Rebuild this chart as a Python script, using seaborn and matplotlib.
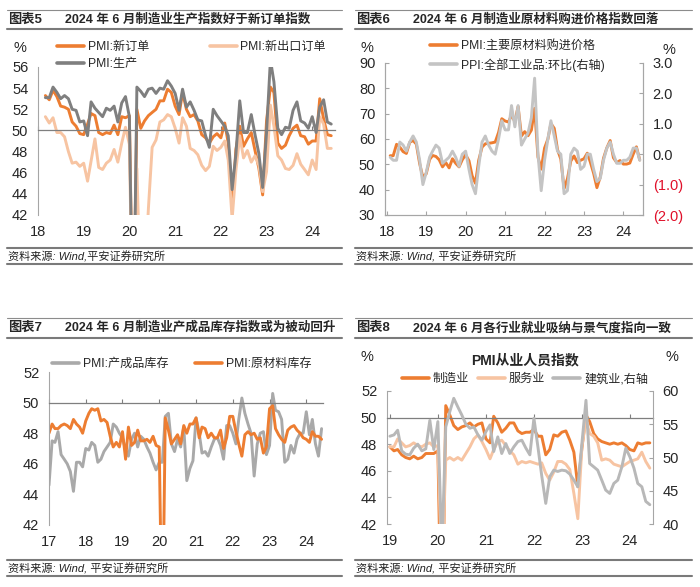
import pandas as pd
import matplotlib
matplotlib.use('Agg')
import matplotlib.pyplot as plt
from matplotlib.lines import Line2D
import seaborn as sns

sns.set_style('white')
plt.rcParams['font.family'] = ['Liberation Sans', 'Noto Sans CJK SC']
plt.rcParams['axes.unicode_minus'] = False

ORANGE = '#ED7D31'
PEACH = '#F7C4A2'
DGRAY = '#7F7F7F'
LGRAY = '#C4C4C4'
MGRAY = '#A9A9A9'
SPINE = '#A6A6A6'
RED = '#E0102A'
TICK = 10.5

# ---- 图表5: PMI 新订单 / 新出口订单 / 生产 (2018-03 起)
new_orders = [53.3, 52.9, 53.8, 53.2, 52.3, 52.2, 52.0, 50.8, 50.4, 49.7,
              49.6, 50.6, 51.6, 51.4, 49.8, 49.6, 49.8, 49.7, 50.5, 49.6, 51.3, 51.2,
              51.4, 29.3, 52.0, 50.2, 50.9, 51.4, 51.7, 52.0, 52.8, 52.8, 53.9, 53.6,
              52.3, 51.5, 53.6, 52.0, 51.3, 51.5, 50.9, 49.6, 49.3, 48.8, 49.4, 49.7,
              49.3, 50.7, 48.8, 42.6, 48.2, 50.4, 48.5, 49.2, 49.8, 48.1, 46.4, 43.9,
              50.9, 54.1, 53.6, 48.8, 48.3, 48.6, 49.5, 50.2, 50.5, 49.5, 49.4, 48.7,
              49.0, 49.0, 53.0, 51.1, 49.6, 49.5]
new_export = [51.3, 50.7, 51.2, 49.8, 49.8, 49.4, 48.0, 46.9, 47.0, 46.6,
              46.9, 45.2, 47.1, 49.2, 46.5, 46.3, 46.9, 47.2, 48.2, 47.0, 48.8, 50.3,
              48.7, 28.7, 46.4, 33.5, 35.3, 42.6, 48.4, 49.1, 50.8, 51.0, 51.5, 51.3,
              50.2, 48.8, 51.2, 50.4, 48.3, 48.1, 47.7, 46.7, 46.2, 46.6, 48.5, 48.1,
              48.4, 49.0, 47.2, 41.6, 46.2, 49.5, 47.4, 48.1, 47.0, 47.6, 46.7, 44.2,
              46.1, 52.4, 50.4, 47.6, 47.2, 46.4, 46.3, 46.7, 47.8, 46.8, 46.3, 45.8,
              47.2, 46.3, 51.3, 50.6, 48.3, 48.3]
production = [53.1, 53.1, 54.1, 53.6, 53.0, 53.3, 53.0, 52.0, 51.9, 50.8,
              50.9, 49.5, 52.7, 52.1, 51.7, 51.3, 52.1, 51.9, 52.3, 50.8, 52.6, 53.2,
              51.3, 27.8, 54.1, 53.7, 53.2, 53.9, 54.0, 53.5, 54.0, 53.9, 54.7, 54.2,
              53.5, 51.9, 53.9, 52.2, 52.7, 51.9, 51.0, 50.9, 49.5, 48.4, 52.0, 51.4,
              50.9, 50.4, 49.5, 44.4, 47.7, 52.8, 49.8, 49.8, 51.5, 49.6, 47.8, 44.6,
              49.8, 56.7, 54.6, 50.2, 49.6, 50.3, 50.2, 51.9, 52.7, 50.9, 50.7, 50.2,
              51.3, 49.8, 52.2, 52.9, 50.8, 50.6]

# ---- 图表6: PMI 主要原材料购进价格 / PPI 环比 (2018-02 起)
input_price = [53.4, 53.4, 57.9, 56.8, 55.0, 54.3, 58.7, 59.4, 58.0, 50.3, 44.8,
               46.3, 51.9, 53.5, 53.1, 51.8, 49.0, 50.7, 48.6, 52.2, 50.4, 49.0, 51.8,
               53.8, 51.4, 45.5, 42.5, 51.6, 56.8, 58.1, 58.3, 58.5, 58.8, 62.6, 68.0,
               67.1, 66.7, 69.4, 66.9, 72.8, 61.2, 62.9, 61.3, 63.5, 72.1, 52.9, 48.1,
               56.4, 60.0, 66.1, 64.2, 55.8, 52.0, 40.4, 44.3, 51.3, 53.3, 50.7, 51.6,
               52.2, 54.4, 50.9, 46.4, 40.8, 45.0, 52.4, 56.5, 59.4, 52.6, 50.7, 51.5,
               50.1, 50.1, 50.5, 54.0, 56.9, 51.7]
ppi_mom = [-0.1, -0.2, -0.2, 0.4, 0.3, 0.1, 0.4, 0.6, 0.4, -0.2, -1.0,
           -0.6, -0.1, 0.1, 0.3, 0.2, -0.3, -0.2, -0.1, 0.1, -0.1, -0.4, 0.0,
           0.1, -0.5, -1.0, -1.3, -0.4, 0.4, 0.6, 0.3, 0.1, 0.0, 0.5, 1.1,
           0.8, 0.8, 1.6, 0.9, 1.6, 0.3, 0.5, 0.7, 1.2, 2.5, 0.0, -1.2,
           -0.2, 0.5, 1.1, 0.6, 0.1, 0.0, -1.3, -1.2, 0.0, 0.2, 0.1, -0.5,
           -0.4, 0.0, 0.0, -0.5, -0.9, -0.8, -0.2, 0.2, 0.4, 0.0, -0.3, -0.3,
           -0.2, -0.2, -0.1, 0.2, 0.2, -0.2]

# ---- 图表7: PMI 产成品库存 / 原材料库存 (2017-01 起)
finished_inv = [44.6, 47.5, 47.4, 48.1, 46.6, 46.3, 46.0, 45.5, 44.2, 46.1, 46.1, 45.8,
                47.0, 46.9, 47.4, 47.2, 46.1, 46.3, 46.8, 47.1, 47.4, 48.6, 48.4, 48.0,
                47.7, 46.9, 46.5, 47.6, 48.0, 47.1, 47.8, 47.6, 47.1, 46.7, 46.1, 45.6,
                46.1, 46.1, 49.1, 49.3, 47.3, 46.8, 47.6, 47.1, 48.4, 44.9, 45.7, 46.2,
                49.0, 48.0, 46.7, 46.8, 46.5, 47.1, 47.6, 47.7, 47.2, 46.3, 48.5, 48.5,
                48.0, 47.3, 48.9, 50.3, 49.3, 48.6, 48.0, 45.2, 47.3, 48.0, 48.1, 46.6,
                47.2, 50.6, 49.5, 49.4, 48.9, 46.1, 46.3, 47.2, 46.7, 47.6, 48.0, 48.0,
                49.4, 47.9, 48.9, 47.3, 46.5, 48.3]
raw_inv = [48.0, 48.6, 48.3, 48.3, 48.5, 48.6, 48.5, 48.3, 48.9, 48.6, 48.4, 48.0,
           48.8, 49.3, 49.6, 49.5, 49.6, 48.8, 48.9, 48.7, 47.8, 47.1, 47.4, 47.1,
           48.1, 46.3, 48.4, 47.2, 47.4, 48.2, 47.5, 47.5, 47.6, 47.4, 47.8, 47.2,
           47.1, 33.9, 49.0, 48.2, 47.3, 47.6, 47.9, 47.3, 48.5, 48.0, 48.6, 48.6,
           49.0, 47.7, 48.4, 48.3, 47.7, 48.0, 47.7, 47.7, 48.2, 47.0, 47.7, 49.1,
           49.1, 48.1, 47.3, 46.5, 47.9, 48.1, 47.9, 48.0, 47.6, 47.7, 46.7, 47.1,
           49.6, 49.8, 48.3, 47.9, 47.6, 47.4, 48.2, 48.4, 48.5, 48.2, 48.0, 47.7,
           47.6, 47.4, 48.1, 47.8, 47.8, 47.6]

# ---- 图表8: PMI 从业人员指数 (2019-01 起)
emp_manu = [47.8, 47.5, 47.6, 47.2, 47.0, 46.9, 47.1, 46.9, 47.0, 47.3, 47.3, 47.3,
            47.5, 31.8, 50.9, 50.2, 49.4, 49.1, 49.3, 49.4, 49.6, 49.3, 49.5, 49.6,
            48.4, 48.1, 50.1, 49.6, 48.9, 49.2, 49.6, 49.6, 49.0, 48.8, 48.9, 48.9,
            49.1, 48.6, 48.6, 47.2, 47.6, 48.7, 48.6, 48.9, 49.0, 48.3, 47.4, 44.8,
            47.7, 50.2, 49.7, 48.8, 48.4, 48.2, 48.1, 48.0, 48.1, 48.0, 48.1, 47.9,
            47.6, 47.5, 48.1, 48.0, 48.1, 48.1]
emp_serv = [47.8, 47.8, 48.4, 48.1, 47.8, 47.9, 48.1, 47.9, 47.8, 48.0, 48.1, 47.8,
            47.9, 38.0, 46.8, 47.0, 46.8, 47.0, 46.8, 47.3, 47.8, 48.4, 48.7, 48.2,
            47.6, 46.9, 47.6, 48.2, 48.3, 47.9, 47.5, 47.2, 46.5, 46.7, 46.6, 46.7,
            46.6, 46.5, 46.6, 45.8, 45.3, 45.9, 46.7, 46.7, 46.5, 46.1, 44.3, 42.4,
            47.8, 49.8, 48.8, 48.6, 48.1, 46.8, 46.9, 46.8, 46.5, 46.4, 46.3, 46.5,
            46.7, 46.8, 46.9, 47.4, 46.7, 46.2]
emp_cons = [53.2, 53.4, 54.1, 51.0, 50.5, 50.4, 51.4, 52.0, 51.0, 51.3, 55.6, 51.2,
            55.4, 36.0, 54.6, 56.9, 58.9, 57.6, 56.4, 55.0, 54.4, 54.6, 53.4, 52.6,
            53.9, 54.9, 50.9, 53.1, 50.6, 52.1, 50.6, 51.6, 52.4, 52.6, 51.4, 50.4,
            55.9, 51.5, 47.3, 43.1, 47.1, 48.1, 47.9, 48.1, 48.0, 47.5, 46.6, 45.6,
            52.1, 58.6, 49.1, 48.6, 48.1, 46.6, 45.1, 44.6, 46.1, 46.6, 48.6, 51.4,
            50.1, 48.4, 46.1, 45.6, 43.4, 42.9]

d1 = pd.date_range('2018-03-01', periods=len(new_orders), freq='MS')
d2 = pd.date_range('2018-02-01', periods=len(input_price), freq='MS')
d3 = pd.date_range('2017-01-01', periods=len(raw_inv), freq='MS')
d4 = pd.date_range('2019-01-01', periods=len(emp_manu), freq='MS')

W, H = 700, 587
fig = plt.figure(figsize=(W / 100, H / 100), dpi=100)


def fx(px):
    return px / W


def fy(py):
    return 1 - py / H


def add_axes(l, t, r, b):
    return fig.add_axes([fx(l), fy(b), (r - l) / W, (b - t) / H])


def hline(x0, x1, y, lw, color):
    fig.add_artist(Line2D([fx(x0), fx(x1)], [fy(y), fy(y)], lw=lw, color=color,
                          transform=fig.transFigure))


def frame(x0, x1, top, sub, foot, bottom, num, title, source):
    hline(x0, x1, top, 0.8, '#8C8C8C')
    hline(x0, x1, sub, 1.5, '#7A7A7A')
    hline(x0, x1, foot, 1.5, '#7A7A7A')
    hline(x0, x1, bottom, 1.5, '#7A7A7A')
    fig.text(fx(x0 + 1), fy((top + sub) / 2), num, fontsize=9.5, fontweight='bold', va='center')
    fig.text(fx(x0 + 58), fy((top + sub) / 2), title, fontsize=9, fontweight='bold', va='center')
    fig.text(fx(x0 + 1), fy((foot + bottom) / 2 + 1), source, fontsize=8, style='italic',
             va='center', color='#222222')


def line(ax, x, y, color, label):
    sns.lineplot(x=x, y=y, ax=ax, color=color, linewidth=2.1, label=label, legend=False)
    ax.set_xlabel('')
    ax.set_ylabel('')
    return ax.lines[-1]


def year_ticks(ax, first, last):
    ticks = [pd.Timestamp(f'{y}-01-01') for y in range(first, last + 1)]
    ax.set_xticks(ticks)
    ax.set_xticklabels([str(y)[2:] for y in range(first, last + 1)])


def axis_at_50(ax):
    # x 轴与 50 线相交，刻度标签放在底部
    for s in ['right', 'bottom']:
        ax.spines[s].set_visible(False)
    ax.spines['left'].set_color(SPINE)
    ax.spines['left'].set_linewidth(0.8)
    ax.spines['top'].set_visible(True)
    ax.spines['top'].set_position(('data', 50))
    ax.spines['top'].set_color(DGRAY)
    ax.spines['top'].set_linewidth(0.9)
    ax.tick_params(axis='x', bottom=False, top=True, labelbottom=True, labeltop=False,
                   direction='out', length=3, color=DGRAY, labelsize=TICK, pad=4)
    ax.tick_params(axis='y', direction='in', length=3, color=SPINE, labelsize=TICK, pad=7)


def legend(ax, handles, x, y, ncol=1, colsp=1.0, lsp=0.45):
    leg = ax.legend(handles=handles, loc='upper left', bbox_to_anchor=(fx(x), fy(y)),
                    bbox_transform=fig.transFigure, frameon=False, ncol=ncol,
                    fontsize=8.7, handlelength=2.25, handletextpad=0.3,
                    columnspacing=colsp, labelspacing=lsp, borderpad=0, borderaxespad=0)
    for h in leg.get_lines():
        h.set_linewidth(2.6)
    return leg


# ================= 图表5 =================
frame(7, 342, 10, 29, 248, 264, '图表5', '2024 年 6 月制造业生产指数好于新订单指数',
      '资料来源: Wind,平安证券研究所')
ax1 = add_axes(38, 67, 335, 215)
h_new = line(ax1, d1, new_orders, ORANGE, 'PMI:新订单')
h_exp = line(ax1, d1, new_export, PEACH, 'PMI:新出口订单')
h_prd = line(ax1, d1, production, DGRAY, 'PMI:生产')
ax1.set_ylim(42, 56)
ax1.set_yticks(range(42, 57, 2))
ax1.set_xlim(pd.Timestamp('2018-01-01'), pd.Timestamp('2024-07-01'))
year_ticks(ax1, 2018, 2024)
axis_at_50(ax1)
legend(ax1, [h_new, h_prd, h_exp], 57, 41, ncol=2, colsp=5.0)
fig.text(fx(20), fy(48), '%', fontsize=TICK, ha='center', va='center')

# ================= 图表6 =================
frame(355, 692, 10, 29, 248, 264, '图表6', '2024 年 6 月制造业原材料购进价格指数回落',
      '资料来源: Wind, 平安证券研究所')
ax2 = add_axes(385, 63, 643, 215)
h_in = line(ax2, d2, input_price, ORANGE, 'PMI:主要原材料购进价格')
ax2.set_ylim(30, 90)
ax2.set_yticks(range(30, 91, 10))
tw2 = ax2.twinx()
h_ppi = line(tw2, d2, ppi_mom, LGRAY, 'PPI:全部工业品:环比(右轴)')
tw2.set_ylim(-2, 3)
tw2.set_yticks([-2, -1, 0, 1, 2, 3])
tw2.set_yticklabels(['(2.0)', '(1.0)', '0.0', '1.0', '2.0', '3.0'])
for lab, v in zip(tw2.get_yticklabels(), [-2, -1, 0, 1, 2, 3]):
    if v < 0:
        lab.set_color(RED)
ax2.set_xlim(pd.Timestamp('2017-12-15'), pd.Timestamp('2024-07-01'))
year_ticks(ax2, 2018, 2024)
for a in (ax2, tw2):
    a.spines['top'].set_visible(False)
    for s in ['left', 'right', 'bottom']:
        a.spines[s].set_color(SPINE)
        a.spines[s].set_linewidth(0.8)
ax2.tick_params(axis='x', direction='in', length=3, color=SPINE, labelsize=TICK, pad=7, bottom=True)
ax2.tick_params(axis='y', direction='in', length=3, color=SPINE, labelsize=TICK, pad=7, left=True)
tw2.tick_params(axis='y', direction='in', length=3, color=SPINE, labelsize=TICK, pad=7, right=True)
legend(tw2, [h_in, h_ppi], 430, 40, lsp=0.5)
fig.text(fx(367), fy(48), '%', fontsize=TICK, ha='center', va='center')
fig.text(fx(669), fy(50), '%', fontsize=TICK, ha='center', va='center')

# ================= 图表7 =================
frame(7, 342, 318, 338, 560, 576, '图表7', '2024 年 6 月制造业产成品库存指数或为被动回升',
      '资料来源: Wind, 平安证券研究所')
ax3 = add_axes(49, 372, 323, 525)
h_fin = line(ax3, d3, finished_inv, MGRAY, 'PMI:产成品库存')
h_raw = line(ax3, d3, raw_inv, ORANGE, 'PMI:原材料库存')
ax3.set_ylim(42, 52)
ax3.set_yticks(range(42, 53, 2))
ax3.set_xlim(pd.Timestamp('2017-01-01'), pd.Timestamp('2024-06-15'))
year_ticks(ax3, 2017, 2024)
axis_at_50(ax3)
legend(ax3, [h_fin, h_raw], 52, 358, ncol=2, colsp=2.2)

# ================= 图表8 =================
frame(355, 692, 318, 338, 560, 576, '图表8', '2024 年 6 月各行业就业吸纳与景气度指向一致',
      '资料来源: Wind, 平安证券研究所')
ax4 = add_axes(387, 391, 653, 524)
h_m = line(ax4, d4, emp_manu, ORANGE, '制造业')
h_s = line(ax4, d4, emp_serv, PEACH, '服务业')
ax4.set_ylim(42, 52)
ax4.set_yticks(range(42, 53, 2))
ax4.set_xlim(pd.Timestamp('2018-12-10'), pd.Timestamp('2024-06-25'))
year_ticks(ax4, 2019, 2024)
axis_at_50(ax4)
tw4 = ax4.twinx()
h_c = line(tw4, d4, emp_cons, '#B8B8B8', '建筑业,右轴')
tw4.set_ylim(40, 60)
tw4.set_yticks(range(40, 61, 5))
for s in ['top', 'left', 'bottom']:
    tw4.spines[s].set_visible(False)
tw4.spines['right'].set_color(SPINE)
tw4.spines['right'].set_linewidth(0.8)
tw4.tick_params(axis='y', direction='in', length=3, color=SPINE, labelsize=TICK, pad=7, right=True)
legend(tw4, [h_m, h_s, h_c], 402, 373, ncol=3, colsp=0.7)
fig.text(fx(525), fy(360), 'PMI从业人员指数', fontsize=10, fontweight='bold', ha='center', va='center')
fig.text(fx(367), fy(357), '%', fontsize=TICK, ha='center', va='center')
fig.text(fx(672), fy(357), '%', fontsize=TICK, ha='center', va='center')

fig.savefig('out.png', dpi=100)
